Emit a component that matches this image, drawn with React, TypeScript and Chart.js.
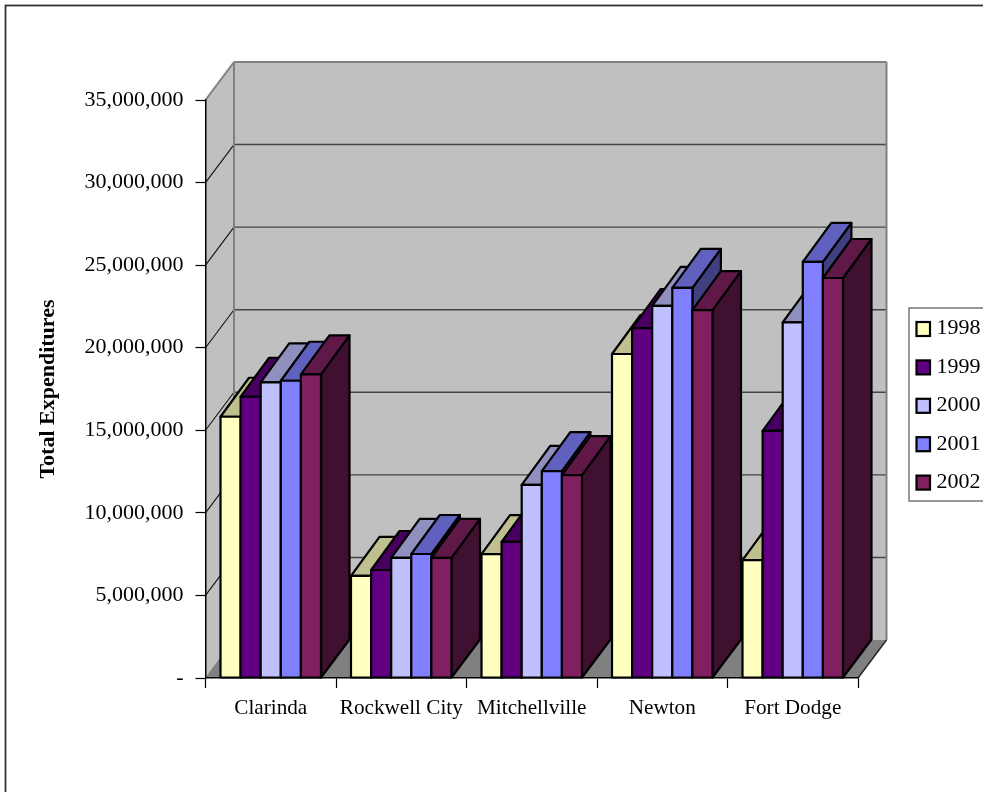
import React, { useEffect, useRef } from "react";
import { Chart, registerables } from "chart.js";

Chart.register(...registerables);

const institutions = ["Clarinda", "Rockwell City", "Mitchellville", "Newton", "Fort Dodge"];

const fy1998 = [15820000, 6180000, 7500000, 19620000, 7140000];
const fy1999 = [17030000, 6540000, 8240000, 21190000, 14970000];
const fy2000 = [17900000, 7270000, 11690000, 22530000, 21540000];
const fy2001 = [18000000, 7510000, 12530000, 23620000, 25200000];
const fy2002 = [18390000, 7270000, 12290000, 22280000, 24220000];

const years = ["1998", "1999", "2000", "2001", "2002"];
const seriesValues = [fy1998, fy1999, fy2000, fy2001, fy2002];
const seriesColors = ["#FFFFC0", "#600080", "#C0C0FF", "#8080FF", "#802060"];

const SERIF = '"Liberation Serif", "Times New Roman", serif';
const DEPTH_X = 28.5;
const DEPTH_Y = -38;
const BAR_TOP_DEPTH_Y = -39;
const BAR_LINE = 2.2;
const WALL = "#C0C0C0";
const FLOOR = "#808080";
const EDGE = "#808080";

// Darkens a #rrggbb colour for the shaded faces of a bar.
function shade(hex: string, factor: number): string {
  const n = parseInt(hex.slice(1), 16);
  const r = Math.round(((n >> 16) & 255) * factor);
  const g = Math.round(((n >> 8) & 255) * factor);
  const b = Math.round((n & 255) * factor);
  return `rgb(${r},${g},${b})`;
}

function polygon(ctx: CanvasRenderingContext2D, pts: number[][], fill: string | null, stroke: string | null, width = 1) {
  ctx.beginPath();
  pts.forEach(([x, y], i) => (i ? ctx.lineTo(x, y) : ctx.moveTo(x, y)));
  ctx.closePath();
  if (fill) {
    ctx.fillStyle = fill;
    ctx.fill();
  }
  if (stroke) {
    ctx.strokeStyle = stroke;
    ctx.lineWidth = width;
    ctx.lineJoin = "round";
    ctx.stroke();
  }
}

function segment(ctx: CanvasRenderingContext2D, x1: number, y1: number, x2: number, y2: number, color: string, width: number) {
  ctx.beginPath();
  ctx.moveTo(x1, y1);
  ctx.lineTo(x2, y2);
  ctx.strokeStyle = color;
  ctx.lineWidth = width;
  ctx.stroke();
}

// Page frame, back wall, side wall, floor and their gridlines.
const roomPlugin = {
  id: "room",
  beforeDraw(chart: any) {
    const { ctx, chartArea: a, scales } = chart;
    const { left: l, right: r, top: t, bottom: b } = a;
    ctx.save();
    ctx.fillStyle = "#fff";
    ctx.fillRect(0, 0, chart.width, chart.height);
    ctx.strokeStyle = "#333";
    ctx.lineWidth = 1.8;
    ctx.strokeRect(5.5, 5.5, chart.width + 20, chart.height + 20);

    const bx = DEPTH_X;
    const by = DEPTH_Y;
    polygon(ctx, [[l + bx, t + by], [r + bx, t + by], [r + bx, b + by], [l + bx, b + by]], WALL, null);
    polygon(ctx, [[l, t], [l + bx, t + by], [l + bx, b + by], [l, b]], WALL, null);
    polygon(ctx, [[l, b], [r, b], [r + bx, b + by], [l + bx, b + by]], FLOOR, null);

    for (const tick of scales.y.ticks) {
      if (tick.value === 0 || tick.value === scales.y.max) continue;
      const y = scales.y.getPixelForValue(tick.value);
      segment(ctx, l, y, l + bx, y + by, "#111", 1.1);
      segment(ctx, l + bx, y + by, r + bx, y + by, "#444", 1.4);
    }

    segment(ctx, l, t, l + bx, t + by, EDGE, 2);
    segment(ctx, l + bx, t + by, r + bx, t + by, EDGE, 2);
    segment(ctx, l + bx, t + by, l + bx, b + by, EDGE, 2);
    segment(ctx, r + bx, t + by, r + bx, b + by, EDGE, 2);
    segment(ctx, l, b, l + bx, b + by, EDGE, 1);
    segment(ctx, r, b, r + bx, b + by, "#222", 1.4);
    ctx.restore();
  },
};

// Bars are painted first series to last, so each one hides the side of its left neighbour.
const prismPlugin = {
  id: "prisms",
  beforeDatasetDraw() {
    return false;
  },
  afterDatasetsDraw(chart: any) {
    const { ctx } = chart;
    ctx.save();
    chart.data.datasets.forEach((ds: any, i: number) => {
      const meta = chart.getDatasetMeta(i);
      const color = ds.backgroundColor as string;
      meta.data.forEach((bar: any) => {
        const { x, y, base, width } = bar.getProps(["x", "y", "base", "width"], true);
        const x0 = x - width / 2;
        const x1 = x + width / 2;
        polygon(
          ctx,
          [[x1, y], [x1 + DEPTH_X, y + BAR_TOP_DEPTH_Y], [x1 + DEPTH_X, base + DEPTH_Y], [x1, base]],
          shade(color, 0.5),
          "#000",
          BAR_LINE,
        );
        polygon(
          ctx,
          [[x0, y], [x0 + DEPTH_X, y + BAR_TOP_DEPTH_Y], [x1 + DEPTH_X, y + BAR_TOP_DEPTH_Y], [x1, y]],
          shade(color, 0.75),
          "#000",
          BAR_LINE,
        );
        bar.draw(ctx);
        ctx.strokeStyle = "#000";
        ctx.lineWidth = BAR_LINE;
        ctx.lineJoin = "round";
        ctx.strokeRect(x0, y, width, base - y);
      });
    });
    ctx.restore();
  },
};

// Boxed key at the right, running off the page edge.
const keyPlugin = {
  id: "key",
  afterDraw(chart: any) {
    const { ctx } = chart;
    ctx.save();
    ctx.fillStyle = "#fff";
    ctx.fillRect(909, 308, 120, 193);
    ctx.strokeStyle = "#777";
    ctx.lineWidth = 1.5;
    ctx.strokeRect(909, 308, 120, 193);
    ctx.font = `22px ${SERIF}`;
    ctx.textAlign = "left";
    ctx.textBaseline = "alphabetic";
    chart.data.datasets.forEach((ds: any, i: number) => {
      const top = 322 + i * 38.4;
      ctx.fillStyle = ds.backgroundColor;
      ctx.fillRect(916.5, top, 13.5, 14);
      ctx.strokeStyle = "#000";
      ctx.lineWidth = BAR_LINE;
      ctx.strokeRect(916.5, top, 13.5, 14);
      ctx.fillStyle = "#000";
      ctx.fillText(ds.label, 936.5, top + 12.3);
    });
    ctx.restore();
  },
};

export default function App() {
  const canvasRef = useRef<HTMLCanvasElement | null>(null);

  useEffect(() => {
    const chart = new Chart(canvasRef.current as HTMLCanvasElement, {
      type: "bar",
      data: {
        labels: institutions,
        datasets: years.map((label, i) => ({
          label,
          data: seriesValues[i],
          backgroundColor: seriesColors[i],
          borderWidth: 0,
          categoryPercentage: 0.77,
          barPercentage: 1,
        })),
      },
      options: {
        animation: false,
        responsive: false,
        devicePixelRatio: 1,
        layout: { autoPadding: false, padding: { left: 0, top: 100, right: 125, bottom: 0 } },
        plugins: { legend: { display: false }, title: { display: false }, tooltip: { enabled: false } },
        scales: {
          x: {
            afterFit(scale: any) {
              scale.height = 114;
            },
            border: { display: true, color: "#000", width: 1.5 },
            grid: { drawOnChartArea: false, drawTicks: true, tickLength: 10, tickColor: "#000", tickWidth: 1.2 },
            ticks: { color: "#000", padding: 8, maxRotation: 0, font: { family: SERIF, size: 21.2 } },
          },
          y: {
            min: 0,
            max: 35000000,
            afterFit(scale: any) {
              scale.width = 205.5;
            },
            border: { display: true, color: "#000", width: 1.5 },
            grid: { drawOnChartArea: false, drawTicks: true, tickLength: 10, tickColor: "#000", tickWidth: 1.2 },
            ticks: {
              stepSize: 5000000,
              color: "#000",
              padding: 12,
              font: { family: SERIF, size: 22 },
              callback: (v: any) => (v === 0 ? "-" : Number(v).toLocaleString("en-US")),
            },
            title: {
              display: true,
              text: "Total Expenditures",
              color: "#000",
              font: { family: SERIF, size: 22, weight: "bold" },
              padding: { top: 35.3, bottom: 0 },
            },
          },
        },
      },
      plugins: [roomPlugin, prismPlugin, keyPlugin],
    } as any);
    return () => chart.destroy();
  }, []);

  return (
    <canvas
      ref={canvasRef}
      width={983}
      height={792}
      style={{ position: "fixed", left: 0, top: 0, display: "block" }}
    />
  );
}
